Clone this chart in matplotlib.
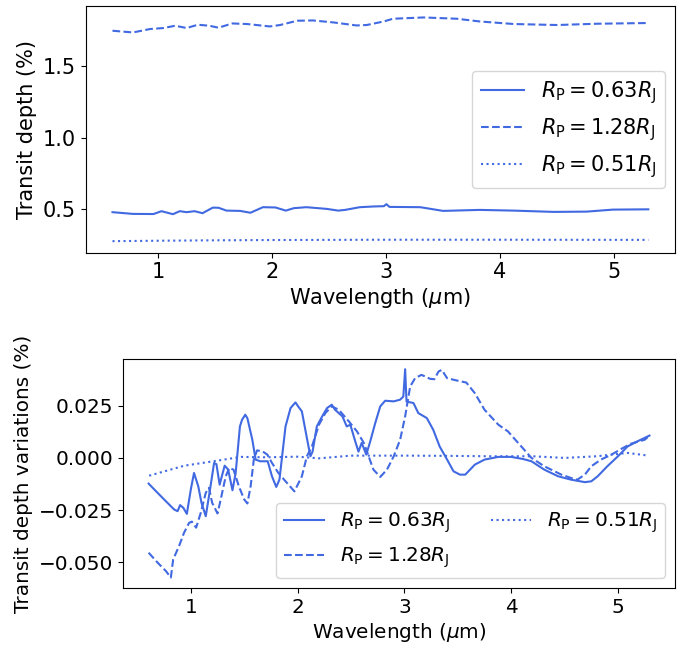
import matplotlib
matplotlib.use("Agg")
import matplotlib.pyplot as plt

color = "royalblue"
labels = [r"$R_{\rm P} = 0.63R_{\rm J}$", r"$R_{\rm P} = 1.28R_{\rm J}$", r"$R_{\rm P} = 0.51R_{\rm J}$"]

# ---- top panel: transit depth (%) ----
top_solid_x = [0.6, 0.78, 0.96, 1.03, 1.13, 1.19, 1.25, 1.32, 1.39, 1.48, 1.53, 1.60, 1.72, 1.81,
               1.92, 2.03, 2.12, 2.19, 2.30, 2.48, 2.58, 2.64, 2.77, 2.89, 2.98, 3.003, 3.03, 3.30,
               3.50, 3.82, 4.12, 4.47, 4.76, 4.99, 5.3]
top_solid_y = [0.479, 0.467, 0.466, 0.486, 0.465, 0.486, 0.479, 0.486, 0.472, 0.511, 0.510, 0.490,
               0.488, 0.475, 0.514, 0.512, 0.490, 0.507, 0.514, 0.502, 0.490, 0.495, 0.514, 0.519,
               0.521, 0.535, 0.516, 0.514, 0.488, 0.495, 0.490, 0.481, 0.483, 0.497, 0.499]

top_dash_x = [0.6, 0.78, 0.93, 1.05, 1.15, 1.25, 1.35, 1.45, 1.53, 1.65, 1.78, 1.98, 2.07, 2.22,
              2.36, 2.54, 2.74, 2.83, 2.98, 3.06, 3.33, 3.62, 3.82, 4.12, 4.50, 4.85, 5.3]
top_dash_y = [1.750, 1.738, 1.762, 1.769, 1.785, 1.769, 1.792, 1.785, 1.771, 1.801, 1.797, 1.780,
              1.790, 1.820, 1.822, 1.808, 1.787, 1.790, 1.815, 1.834, 1.843, 1.834, 1.815, 1.797,
              1.790, 1.799, 1.804]

top_dot_x = [0.6, 1.0, 1.5, 2.0, 3.0, 4.0, 5.3]
top_dot_y = [0.276, 0.279, 0.282, 0.284, 0.286, 0.286, 0.285]

# ---- bottom panel: transit depth variations (%) ----
bot_solid_x = [0.605, 0.658, 0.75, 0.844, 0.876, 0.90, 0.93, 0.963, 1.0, 1.03, 1.07, 1.10, 1.14,
               1.18, 1.218, 1.24, 1.27, 1.317, 1.35, 1.39, 1.42, 1.46, 1.48, 1.51, 1.53, 1.576,
               1.607, 1.65, 1.72, 1.76, 1.80, 1.83, 1.887, 1.934, 1.98, 2.005, 2.04, 2.09, 2.12,
               2.14, 2.18, 2.23, 2.276, 2.32, 2.35, 2.42, 2.46, 2.494, 2.54, 2.57, 2.60, 2.643,
               2.68, 2.727, 2.774, 2.82, 2.90, 2.96, 2.99, 3.007, 3.02, 3.085, 3.13, 3.21, 3.27,
               3.33, 3.40, 3.46, 3.52, 3.57, 3.66, 3.75, 3.88, 4.0, 4.11, 4.19, 4.31, 4.44, 4.56,
               4.69, 4.75, 4.81, 4.90, 5.0, 5.09, 5.18, 5.295]
bot_solid_y = [-0.0123, -0.0151, -0.0199, -0.0247, -0.0255, -0.0226, -0.0239, -0.0268, -0.0151,
               -0.0072, -0.0136, -0.0215, -0.0279, -0.0151, -0.0024, -0.0030, -0.0128, -0.0037,
               -0.0056, -0.0155, -0.0072, 0.0151, 0.0183, 0.0207, 0.0190, 0.0087, -0.0008,
               -0.0016, -0.0016, -0.0088, -0.0139, -0.0104, 0.0151, 0.0239, 0.0266, 0.0247,
               0.0223, 0.0087, 0.0008, 0.0030, 0.0151, 0.0199, 0.0239, 0.0255, 0.0231, 0.0199,
               0.0151, 0.0159, 0.0079, 0.0030, 0.0072, 0.0016, 0.0079, 0.0167, 0.0247, 0.0274,
               0.0271, 0.0279, 0.0294, 0.0425, 0.0270, 0.0263, 0.0215, 0.0191, 0.0135, 0.0055,
               -0.0008, -0.0064, -0.0080, -0.0080, -0.0032, -0.0008, 0.0005, 0.0005, -0.0005,
               -0.0016, -0.0056, -0.0088, -0.0104, -0.0116, -0.0112, -0.0088, -0.0040, 0.0008,
               0.0055, 0.0079, 0.0107]

bot_dash_x = [0.605, 0.69, 0.767, 0.813, 0.835, 0.89, 0.937, 0.984, 1.01, 1.05, 1.093, 1.14, 1.17,
              1.20, 1.25, 1.28, 1.327, 1.36, 1.40, 1.45, 1.50, 1.53, 1.56, 1.59, 1.62, 1.67, 1.716,
              1.76, 1.82, 1.887, 1.97, 2.04, 2.087, 2.134, 2.20, 2.26, 2.32, 2.385, 2.48, 2.556,
              2.62, 2.665, 2.71, 2.774, 2.837, 2.90, 2.96, 3.007, 3.054, 3.10, 3.16, 3.24, 3.28,
              3.32, 3.35, 3.40, 3.49, 3.58, 3.66, 3.75, 3.88, 3.97, 4.065, 4.19, 4.31, 4.47, 4.56,
              4.62, 4.69, 4.75, 4.84, 4.94, 5.03, 5.12, 5.25, 5.29]
bot_dash_y = [-0.0454, -0.0502, -0.0542, -0.0573, -0.0486, -0.0422, -0.0358, -0.0311, -0.0305,
              -0.0334, -0.0263, -0.0167, -0.0143, -0.0215, -0.0266, -0.0199, -0.0088, -0.0048,
              -0.0056, -0.0136, -0.0199, -0.0218, -0.0136, -0.0008, 0.0036, 0.0032, 0.0016,
              -0.0024, -0.0072, -0.0112, -0.0160, -0.0088, 0.0008, 0.0055, 0.0159, 0.0215,
              0.0247, 0.0231, 0.0175, 0.0127, 0.0072, 0.0008, -0.0056, -0.0091, -0.0056, 0.0008,
              0.0087, 0.0199, 0.0342, 0.0382, 0.0398, 0.0379, 0.0377, 0.0414, 0.0422, 0.0382,
              0.0371, 0.0361, 0.0310, 0.0231, 0.0159, 0.0127, 0.0072, 0.0000, -0.0040, -0.0080,
              -0.0096, -0.0104, -0.0080, -0.0040, -0.0008, 0.0016, 0.0043, 0.0068, 0.0087, 0.0104]

bot_dot_x = [0.61, 0.94, 1.25, 1.47, 1.7, 2.0, 2.2, 2.5, 3.0, 3.4, 3.8, 4.2, 4.5, 4.8, 5.09, 5.27]
bot_dot_y = [-0.0085, -0.0037, -0.0013, 0.0005, 0.0003, 0.0006, -0.0002, 0.0011, 0.0011, 0.0010,
             0.0008, 0.0008, 0.0000, 0.0008, 0.0024, 0.0012]

fs_top = 15
fs_bot = 14.4
fig = plt.figure(figsize=(6.91, 6.46), dpi=100)
ax1 = fig.add_axes([0.124, 0.609, 0.853, 0.381])
ax2 = fig.add_axes([0.178, 0.0898, 0.799, 0.3545])

lw = 1.5
ax1.plot(top_solid_x, top_solid_y, color=color, lw=lw, ls="-", label=labels[0])
ax1.plot(top_dash_x, top_dash_y, color=color, lw=lw, ls="--", label=labels[1])
ax1.plot(top_dot_x, top_dot_y, color=color, lw=lw, ls=":", label=labels[2])
ax1.set_xlabel(r"Wavelength ($\mu$m)", fontsize=fs_top, labelpad=3)
ax1.set_ylabel("Transit depth (%)", fontsize=fs_top)
ax1.set_yticks([0.5, 1.0, 1.5])
ax1.set_xticks([1, 2, 3, 4, 5])
ax1.set_xlim(0.365, 5.535)
ax1.set_ylim(0.196, 1.920)
ax1.tick_params(labelsize=fs_top)
ax1.legend(loc="center right", fontsize=fs_top, handlelength=2.1)

ax2.plot(bot_solid_x, bot_solid_y, color=color, lw=lw, ls="-", label=labels[0])
ax2.plot(bot_dash_x, bot_dash_y, color=color, lw=lw, ls="--", label=labels[1])
ax2.plot(bot_dot_x, bot_dot_y, color=color, lw=lw, ls=":", label=labels[2])
ax2.set_xlabel(r"Wavelength ($\mu$m)", fontsize=fs_bot, labelpad=3)
ax2.set_ylabel("Transit depth variations (%)", fontsize=fs_bot)
ax2.set_yticks([-0.050, -0.025, 0.000, 0.025])
ax2.set_xticks([1, 2, 3, 4, 5])
ax2.set_xlim(0.365, 5.535)
ax2.set_ylim(-0.0623, 0.0474)
ax2.tick_params(labelsize=fs_bot)
ax2.legend(loc="lower right", ncol=2, fontsize=fs_bot)

fig.savefig("out.png", dpi=100)
